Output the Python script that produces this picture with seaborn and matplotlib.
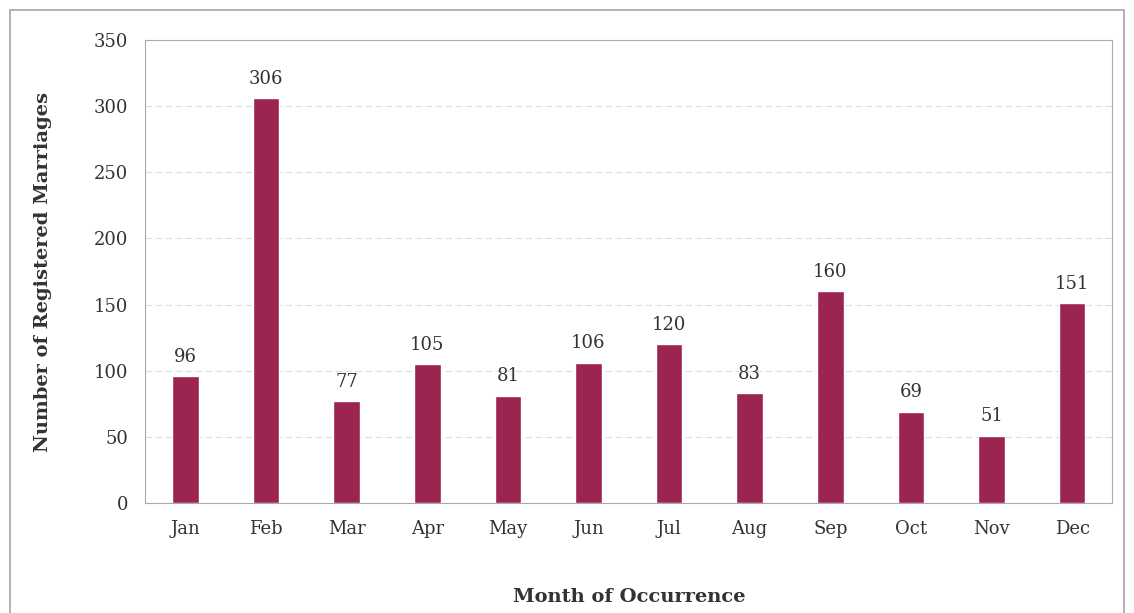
import matplotlib
matplotlib.use('Agg')
import matplotlib.pyplot as plt
import pandas as pd
import seaborn as sns
from matplotlib.patches import Rectangle

months = ['Jan', 'Feb', 'Mar', 'Apr', 'May', 'Jun', 'Jul', 'Aug', 'Sep', 'Oct', 'Nov', 'Dec']
marriages = [96, 306, 77, 105, 81, 106, 120, 83, 160, 69, 51, 151]
y_ticks = [0, 50, 100, 150, 200, 250, 300, 350]

df = pd.DataFrame({'month': months, 'count': marriages})

sns.set_style('white')
plt.rcParams['font.family'] = ['DejaVu Serif']

fig = plt.figure(figsize=(11.34, 6.13), dpi=100)
ax = fig.add_axes([0.128, 0.179, 0.853, 0.756])

sns.barplot(data=df, x='month', y='count', color='#9b2550', width=0.33,
            saturation=1, ax=ax, zorder=3)

# value labels on top of the bars
for i, v in enumerate(marriages):
    ax.text(i, v + 8, str(v), ha='center', va='bottom', fontsize=13, color='#333333')

ax.set_ylim(0, 350)
ax.set_yticks(y_ticks)
ax.set_xlim(-0.5, len(months) - 0.5)
ax.yaxis.grid(True, color='#dddddd', linewidth=0.8, linestyle=(0, (6, 3)), zorder=0)
ax.tick_params(axis='both', length=0, labelsize=13, labelcolor='#333333', pad=12)

ax.set_xlabel('Month of Occurrence', fontsize=14, fontweight='bold', color='#333333', labelpad=36)
ax.set_ylabel('Number of Registered Marriages', fontsize=14, fontweight='bold', color='#333333', labelpad=30)

for s in ax.spines.values():
    s.set_color('#a8a8b8')
    s.set_linewidth(0.8)

# outer chart border
fig.patches.append(Rectangle((10 / 1134, -0.05), 1114 / 1134, 1.05 - 10 / 613,
                             transform=fig.transFigure, fill=False,
                             edgecolor='#a8a0b0', linewidth=1.2))

fig.savefig('out.png', dpi=100)
